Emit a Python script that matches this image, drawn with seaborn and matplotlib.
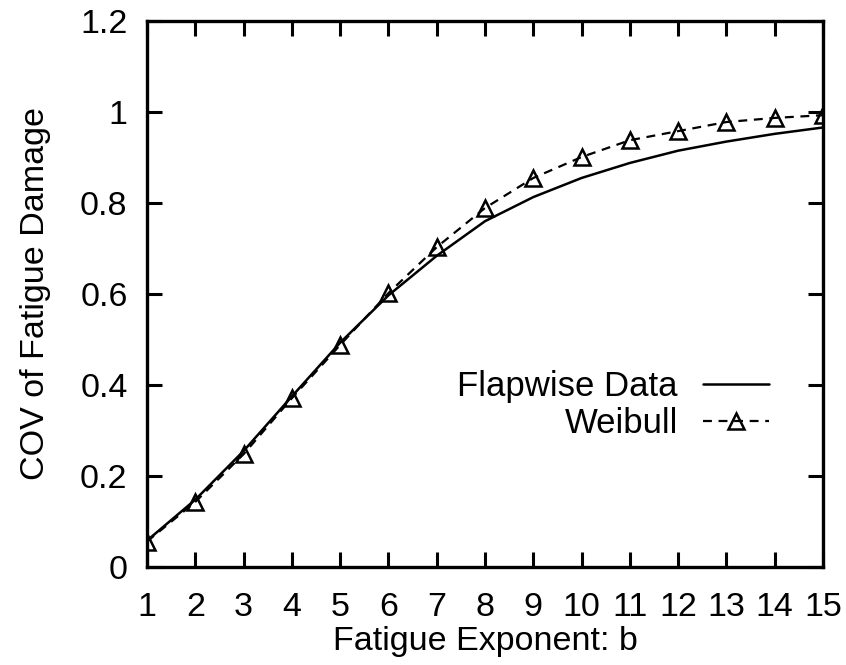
import numpy as np
import pandas as pd
import matplotlib
matplotlib.use("Agg")
import matplotlib.pyplot as plt
import seaborn as sns

# values
exponent = list(range(1, 16))
flapwise = [0.058, 0.148, 0.255, 0.375, 0.493, 0.597, 0.684, 0.760, 0.813,
            0.855, 0.888, 0.915, 0.935, 0.952, 0.966]
weibull = [0.056, 0.143, 0.248, 0.371, 0.488, 0.602, 0.703, 0.789, 0.855,
           0.901, 0.938, 0.958, 0.978, 0.987, 0.993]
y_ticks = [0, 0.2, 0.4, 0.6, 0.8, 1.0, 1.2]
y_labels = ["0", "0.2", "0.4", "0.6", "0.8", "1", "1.2"]

sns.set_style("ticks", {"text.color": "black", "axes.labelcolor": "black",
                        "xtick.color": "black", "ytick.color": "black",
                        "axes.edgecolor": "black"})
plt.rcParams["font.family"] = ["Liberation Sans", "DejaVu Sans"]

fig = plt.figure(figsize=(8.46, 6.65), dpi=100)
ax = fig.add_axes([0.1738, 0.1474, 0.7990, 0.8210])

sns.lineplot(x=exponent, y=flapwise, color="black", linewidth=1.8,
             label="Flapwise Data", ax=ax)
sns.lineplot(x=exponent, y=weibull, color="black", linewidth=1.6,
             linestyle=(0, (4, 3)), marker="^", markersize=11,
             markerfacecolor="none", markeredgecolor="black",
             markeredgewidth=1.8, label="Weibull", ax=ax)

ax.set_xlim(1, 15)
ax.set_ylim(0, 1.2)
ax.set_xticks(exponent)
ax.set_yticks(y_ticks)
ax.set_yticklabels(y_labels)
ax.tick_params(direction="in", length=11, width=2.2, top=True, right=True,
               labelsize=24.5)
ax.tick_params(axis="x", pad=18)
ax.tick_params(axis="y", pad=14)
for s in ax.spines.values():
    s.set_linewidth(2.4)

ax.set_xlabel("Fatigue Exponent: b", fontsize=24.5, labelpad=2)
ax.set_ylabel("COV of Fatigue Damage", fontsize=24.5, labelpad=21)

leg = ax.legend(loc="center right", bbox_to_anchor=(0.92, 0.297),
                frameon=False, markerfirst=False, fontsize=25,
                handlelength=1.9, handletextpad=0.72, labelspacing=0.12,
                borderpad=0, borderaxespad=0)

fig.savefig("out.png", dpi=100)
